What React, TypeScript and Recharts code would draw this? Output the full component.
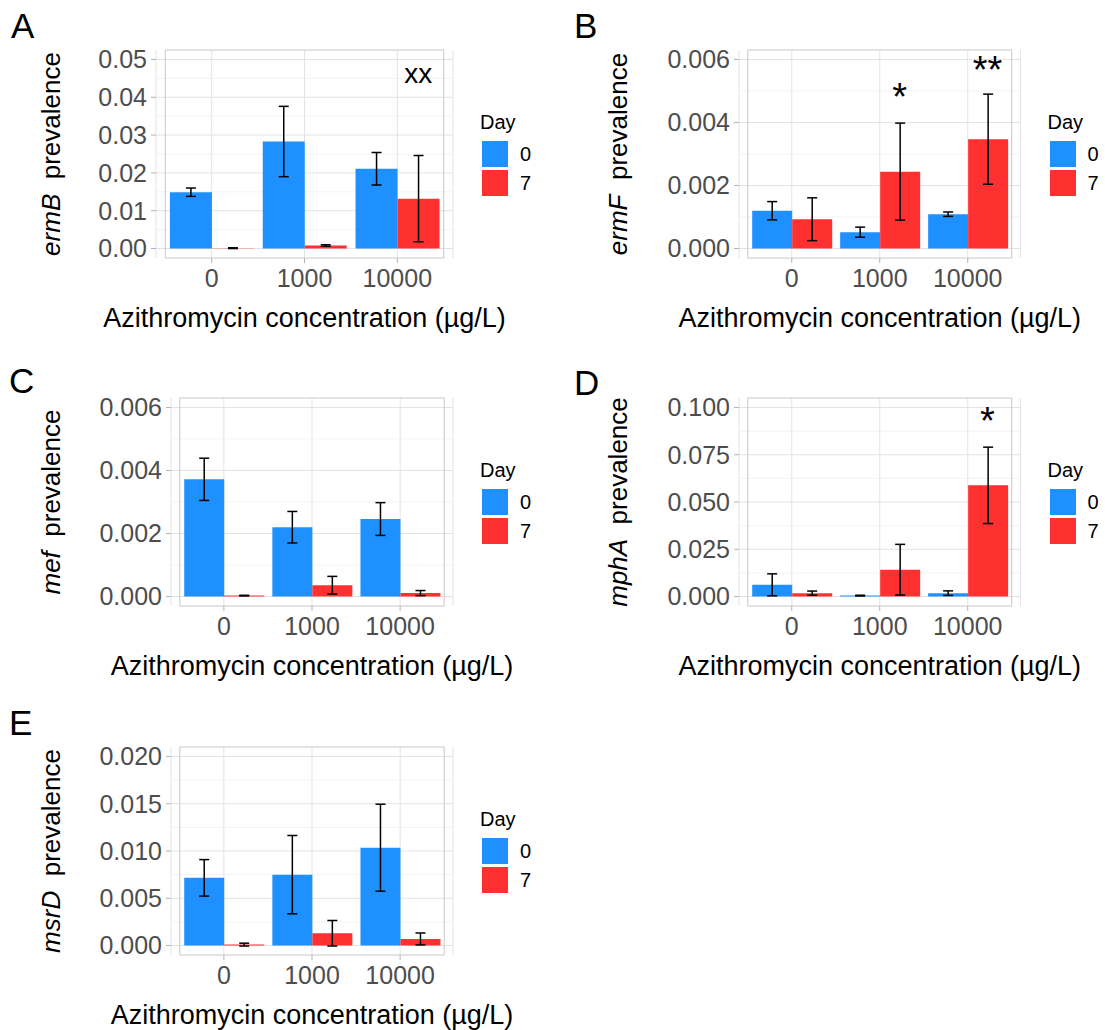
import {
  BarChart,
  Bar,
  XAxis,
  YAxis,
  CartesianGrid,
  ErrorBar,
  ReferenceArea,
  ReferenceDot,
} from "recharts"

const FONT = '"Liberation Sans", Arial, Helvetica, sans-serif'

const concentrations = ["0", "1000", "10000"]
const days = ["0", "7"]
const dayColors = ["#1E90FF", "#FF3030"]

// ermB
const ermBDay0 = [0.0149, 0.0283, 0.0211]
const ermBDay0Se = [0.0011, 0.0093, 0.0043]
const ermBDay7 = [0.0001, 0.0008, 0.0132]
const ermBDay7Se = [0.0001, 0.0002, 0.0114]
const ermBTicks = [0, 0.01, 0.02, 0.03, 0.04, 0.05]
const ermBMarks = [{ conc: "10000", text: "xx", y: 0.0438 }]

// ermF
const ermFDay0 = [0.0012, 0.00052, 0.00109]
const ermFDay0Se = [0.00029, 0.00016, 0.00007]
const ermFDay7 = [0.00093, 0.00244, 0.00347]
const ermFDay7Se = [0.00068, 0.00154, 0.00143]
const ermFTicks = [0, 0.002, 0.004, 0.006]
const ermFMarks = [
  { conc: "1000", text: "*", y: 0.0044 },
  { conc: "10000", text: "**", y: 0.00525 },
]

// mef
const mefDay0 = [0.00372, 0.0022, 0.00246]
const mefDay0Se = [0.00067, 0.0005, 0.00052]
const mefDay7 = [0.00003, 0.00036, 0.00011]
const mefDay7Se = [0.00001, 0.00028, 0.00008]
const mefTicks = [0, 0.002, 0.004, 0.006]

// mphA
const mphADay0 = [0.0062, 0.0005, 0.0018]
const mphADay0Se = [0.0058, 0.0002, 0.0012]
const mphADay7 = [0.0018, 0.0142, 0.0588]
const mphADay7Se = [0.0011, 0.0134, 0.0202]
const mphATicks = [0, 0.025, 0.05, 0.075, 0.1]
const mphAMarks = [{ conc: "10000", text: "*", y: 0.0858 }]

// msrD
const msrDDay0 = [0.00716, 0.0075, 0.01035]
const msrDDay0Se = [0.00193, 0.00414, 0.0046]
const msrDDay7 = [0.0001, 0.0013, 0.0007]
const msrDDay7Se = [0.00015, 0.00135, 0.00063]
const msrDTicks = [0, 0.005, 0.01, 0.015, 0.02]

const PANEL_W = 552
const PANEL_H = 345
const PLOT_TOP = 50
const PLOT_BOTTOM = 258
const X_AXIS_H = 70

function YTitle({ viewBox, gene }: any) {
  const x = viewBox.x + 60
  const y = viewBox.y + viewBox.height / 2
  return (
    <text
      x={x}
      y={y}
      transform={`rotate(-90 ${x} ${y})`}
      textAnchor="middle"
      fontSize={26}
      fontFamily={FONT}
      fill="#000"
    >
      <tspan fontStyle="italic">{gene}</tspan>
      <tspan>{"\u00a0\u00a0prevalence"}</tspan>
    </text>
  )
}

function XTitle({ viewBox }: any) {
  return (
    <text
      x={viewBox.x + viewBox.width / 2}
      y={viewBox.y + 69}
      textAnchor="middle"
      fontSize={27}
      fontFamily={FONT}
      fill="#000"
    >
      Azithromycin concentration (µg/L)
    </text>
  )
}

function Legend({ x, y }: { x: number; y: number }) {
  return (
    <div style={{ position: "absolute", left: x, top: y, fontFamily: FONT }}>
      <div style={{ position: "absolute", left: 0, top: 0, fontSize: 20, lineHeight: "20px", whiteSpace: "nowrap" }}>
        Day
      </div>
      {days.map((d, i) => (
        <div key={d}>
          <div
            style={{
              position: "absolute",
              left: 2,
              top: 29 + i * 29,
              width: 26,
              height: 26,
              background: dayColors[i],
            }}
          />
          <div
            style={{
              position: "absolute",
              left: 40,
              top: 32 + i * 29,
              fontSize: 20,
              lineHeight: "20px",
            }}
          >
            {d}
          </div>
        </div>
      ))}
    </div>
  )
}

type PanelProps = {
  letter: string
  gene: string
  day0: number[]
  day0Se: number[]
  day7: number[]
  day7Se: number[]
  ticks: number[]
  digits: number
  marks?: { conc: string; text: string; y: number }[]
  left: number
  top: number
  plotLeft: number
  plotRight: number
  letterX: number
  letterY: number
}

function Panel(p: PanelProps) {
  const data = concentrations.map((c, i) => ({
    conc: c,
    d0: p.day0[i],
    d0se: p.day0Se[i],
    d7: p.day7[i],
    d7se: p.day7Se[i],
  }))
  const max = p.ticks[p.ticks.length - 1]
  const domain = [-0.05 * max, 1.05 * max]
  const minor = p.ticks.slice(1).map((t, i) => (t + p.ticks[i]) / 2)
  const plotW = p.plotRight - p.plotLeft
  const unit = plotW / 3.2
  const pad = unit * 0.1
  const markDx = unit * 0.225

  return (
    <div style={{ position: "absolute", left: p.left, top: p.top, width: PANEL_W, height: PANEL_H }}>
      <div
        style={{
          position: "absolute",
          left: p.letterX,
          top: p.letterY,
          fontFamily: FONT,
          fontSize: 35,
          lineHeight: 1,
        }}
      >
        {p.letter}
      </div>
      <BarChart
        width={PANEL_W}
        height={PANEL_H}
        data={data}
        margin={{ top: PLOT_TOP, right: PANEL_W - p.plotRight, bottom: PANEL_H - PLOT_BOTTOM - X_AXIS_H, left: 0 }}
        barCategoryGap="5%"
        barGap={0}
      >
        <CartesianGrid stroke="#f0f0f0" strokeWidth={0.8} horizontalValues={minor} vertical={false} />
        <CartesianGrid stroke="#e3e3e3" strokeWidth={1} horizontalValues={p.ticks} />
        <XAxis
          dataKey="conc"
          type="category"
          interval={0}
          height={X_AXIS_H}
          padding={{ left: pad, right: pad }}
          axisLine={false}
          tickLine={{ stroke: "#b3b3b3" }}
          tickSize={5}
          tickMargin={6}
          tick={{ fill: "#4d4d4d", fontSize: 25, fontFamily: FONT }}
          label={<XTitle />}
        />
        <YAxis
          type="number"
          domain={domain}
          ticks={p.ticks}
          interval={0}
          allowDataOverflow
          width={p.plotLeft}
          axisLine={false}
          tickLine={{ stroke: "#b3b3b3" }}
          tickSize={5}
          tickMargin={4}
          tickFormatter={(v: number) => v.toFixed(p.digits)}
          tick={{ fill: "#4d4d4d", fontSize: 25, fontFamily: FONT }}
          label={<YTitle gene={p.gene} />}
        />
        <ReferenceArea
          y1={domain[0]}
          y2={domain[1]}
          fill="none"
          stroke="#c8c8c8"
          strokeWidth={1}
          ifOverflow="visible"
        />
        <Bar dataKey="d0" fill={dayColors[0]} isAnimationActive={false}>
          <ErrorBar dataKey="d0se" direction="y" width={5} stroke="#000" strokeWidth={1.5} isAnimationActive={false} />
        </Bar>
        <Bar dataKey="d7" fill={dayColors[1]} isAnimationActive={false}>
          <ErrorBar dataKey="d7se" direction="y" width={5} stroke="#000" strokeWidth={1.5} isAnimationActive={false} />
        </Bar>
        {(p.marks || []).map((m) => (
          <ReferenceDot
            key={m.conc + m.text}
            x={m.conc}
            y={m.y}
            r={1}
            ifOverflow="visible"
            shape={(s: any) => (
              <text
                x={s.cx + markDx}
                y={s.cy}
                textAnchor="middle"
                fontSize={m.text === "xx" ? 28 : 38}
                fontFamily={FONT}
                fill="#000"
              >
                {m.text}
              </text>
            )}
          />
        ))}
      </BarChart>
      <Legend x={p.plotRight + 27} y={PLOT_TOP + 62} />
    </div>
  )
}

export default function App() {
  return (
    <div
      style={{
        position: "absolute",
        left: 0,
        top: 0,
        width: 1105,
        height: 1030,
        overflow: "hidden",
        background: "#fff",
      }}
    >
      <Panel
        letter="A"
        gene="ermB"
        day0={ermBDay0}
        day0Se={ermBDay0Se}
        day7={ermBDay7}
        day7Se={ermBDay7Se}
        ticks={ermBTicks}
        digits={2}
        marks={ermBMarks}
        left={0}
        top={0}
        plotLeft={156}
        plotRight={453}
        letterX={11}
        letterY={8}
      />
      <Panel
        letter="B"
        gene="ermF"
        day0={ermFDay0}
        day0Se={ermFDay0Se}
        day7={ermFDay7}
        day7Se={ermFDay7Se}
        ticks={ermFTicks}
        digits={3}
        marks={ermFMarks}
        left={567}
        top={0}
        plotLeft={172}
        plotRight={453.5}
        letterX={7}
        letterY={8}
      />
      <Panel
        letter="C"
        gene="mef"
        day0={mefDay0}
        day0Se={mefDay0Se}
        day7={mefDay7}
        day7Se={mefDay7Se}
        ticks={mefTicks}
        digits={3}
        left={0}
        top={348}
        plotLeft={171}
        plotRight={453}
        letterX={9}
        letterY={15}
      />
      <Panel
        letter="D"
        gene="mphA"
        day0={mphADay0}
        day0Se={mphADay0Se}
        day7={mphADay7}
        day7Se={mphADay7Se}
        ticks={mphATicks}
        digits={3}
        marks={mphAMarks}
        left={567}
        top={348}
        plotLeft={172}
        plotRight={453.5}
        letterX={7}
        letterY={17}
      />
      <Panel
        letter="E"
        gene="msrD"
        day0={msrDDay0}
        day0Se={msrDDay0Se}
        day7={msrDDay7}
        day7Se={msrDDay7Se}
        ticks={msrDTicks}
        digits={3}
        left={0}
        top={697}
        plotLeft={171}
        plotRight={453}
        letterX={9}
        letterY={8}
      />
    </div>
  )
}
